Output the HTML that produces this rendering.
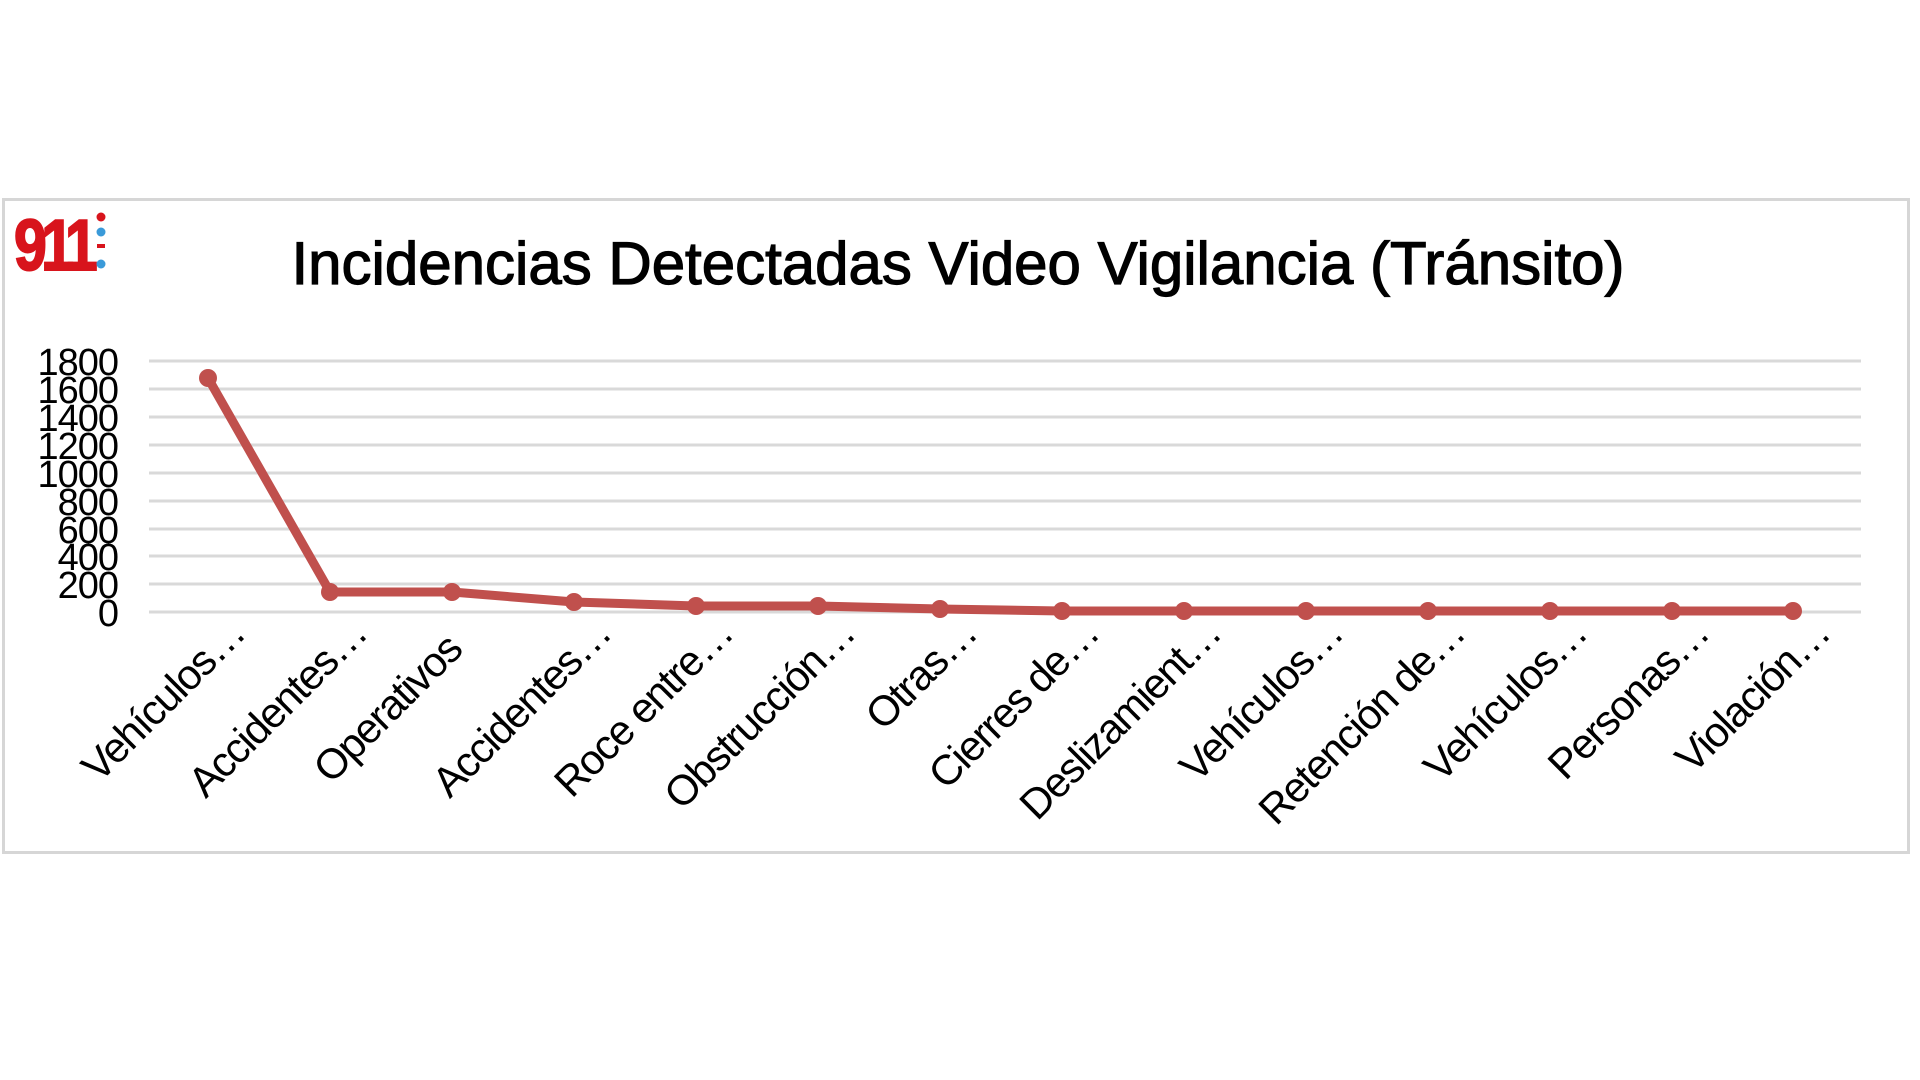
<!DOCTYPE html>
<html><head><meta charset="utf-8"><style>
html,body{margin:0;padding:0;background:#fff;width:1920px;height:1080px;overflow:hidden}
svg{display:block}
</style></head><body>
<svg width="1920" height="1080" viewBox="0 0 1920 1080" xmlns="http://www.w3.org/2000/svg" font-family="Liberation Sans, Arial, sans-serif">
<rect x="3.5" y="199.5" width="1905" height="653" fill="#fff" stroke="#d6d6d6" stroke-width="3"/>
<!-- logo -->
<g>
<text x="0" y="0" font-size="72" font-weight="bold" fill="#d8141c" stroke="#d8141c" stroke-width="2" letter-spacing="-7" transform="translate(14 270) scale(0.82 1)">911</text>
<circle cx="101" cy="217" r="4.5" fill="#d8141c"/>
<circle cx="101" cy="232" r="4.5" fill="#3a9ad9"/>
<rect x="97" y="244" width="8" height="4" fill="#d8141c"/>
<circle cx="101" cy="264" r="4.5" fill="#3a9ad9"/>
</g>
<text x="958" y="284" font-size="60" text-anchor="middle" fill="#000" stroke="#000" stroke-width="1.2">Incidencias Detectadas Video Vigilancia (Tránsito)</text>
<g stroke="#d9d9d9" stroke-width="3">
<line x1="149" x2="1861" y1="361" y2="361"/><line x1="149" x2="1861" y1="389" y2="389"/>
<line x1="149" x2="1861" y1="417" y2="417"/><line x1="149" x2="1861" y1="445" y2="445"/>
<line x1="149" x2="1861" y1="473" y2="473"/><line x1="149" x2="1861" y1="501" y2="501"/>
<line x1="149" x2="1861" y1="529" y2="529"/><line x1="149" x2="1861" y1="556" y2="556"/>
<line x1="149" x2="1861" y1="584" y2="584"/><line x1="149" x2="1861" y1="612" y2="612"/>
</g>
<g font-size="38" text-anchor="end" fill="#000" letter-spacing="-1">
<text x="118" y="375">1800</text><text x="118" y="403">1600</text><text x="118" y="431">1400</text>
<text x="118" y="459">1200</text><text x="118" y="487">1000</text><text x="118" y="515">800</text>
<text x="118" y="543">600</text><text x="118" y="570">400</text><text x="118" y="598">200</text>
<text x="118" y="626">0</text>
</g>
<polyline fill="none" stroke="#c0504d" stroke-width="9" stroke-linejoin="round" points="208,378 330,592 452,592 574,602 696,606 818,606 940,609 1062,611 1184,611 1306,611 1428,611 1550,611 1672,611 1793,611"/>
<g fill="#c0504d">
<circle cx="208" cy="378" r="9"/><circle cx="330" cy="592" r="9"/><circle cx="452" cy="592" r="9"/>
<circle cx="574" cy="602" r="9"/><circle cx="696" cy="606" r="9"/><circle cx="818" cy="606" r="9"/>
<circle cx="940" cy="609" r="9"/><circle cx="1062" cy="611" r="9"/><circle cx="1184" cy="611" r="9"/>
<circle cx="1306" cy="611" r="9"/><circle cx="1428" cy="611" r="9"/><circle cx="1550" cy="611" r="9"/>
<circle cx="1672" cy="611" r="9"/><circle cx="1793" cy="611" r="9"/>
</g>
<g font-size="42" text-anchor="end" fill="#000" letter-spacing="-1.5">
<text transform="translate(247 636) rotate(-45)">Vehículos…</text>
<text transform="translate(369 636) rotate(-45)">Accidentes…</text>
<text transform="translate(464 652) rotate(-45)">Operativos</text>
<text transform="translate(613 636) rotate(-45)">Accidentes…</text>
<text transform="translate(735 636) rotate(-45)">Roce entre…</text>
<text transform="translate(857 636) rotate(-45)">Obstrucción…</text>
<text transform="translate(979 636) rotate(-45)">Otras…</text>
<text transform="translate(1101 636) rotate(-45)">Cierres de…</text>
<text transform="translate(1223 636) rotate(-45)">Deslizamient…</text>
<text transform="translate(1345 636) rotate(-45)">Vehículos…</text>
<text transform="translate(1467 636) rotate(-45)">Retención de…</text>
<text transform="translate(1589 636) rotate(-45)">Vehículos…</text>
<text transform="translate(1711 636) rotate(-45)">Personas…</text>
<text transform="translate(1832 636) rotate(-45)">Violación…</text>
</g>
</svg>
</body></html>
